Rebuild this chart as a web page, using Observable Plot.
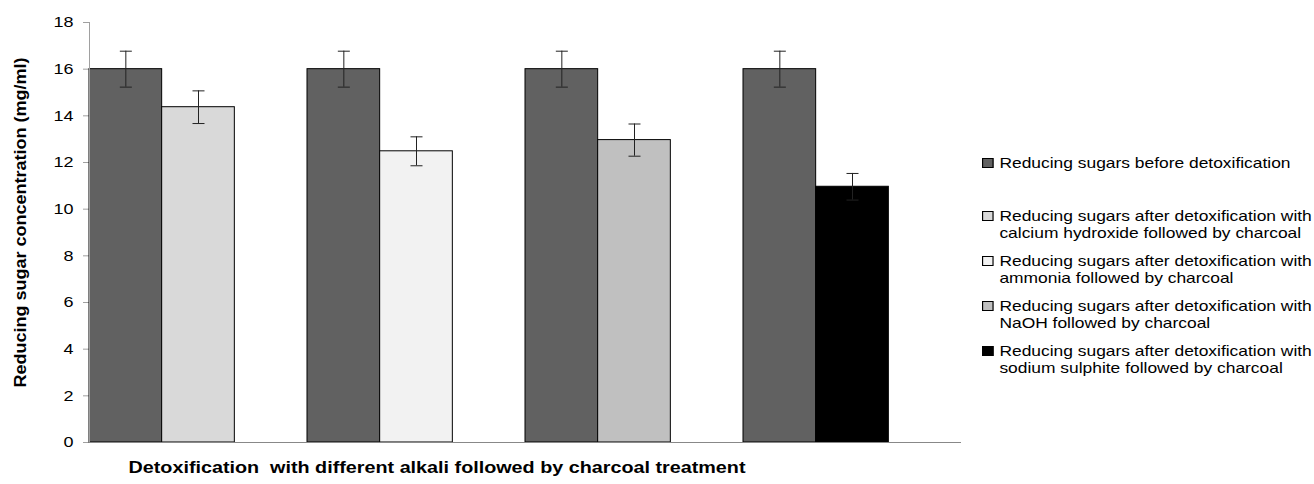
<!DOCTYPE html>
<html><head><meta charset="utf-8">
<script src="https://cdn.jsdelivr.net/npm/d3@7"></script>
<script src="https://cdn.jsdelivr.net/npm/@observablehq/plot@0.6"></script>
<style>
body{margin:0;background:#fff;font-family:"Liberation Sans",Arial,sans-serif;}
#wrap{position:relative;width:1314px;height:484px;overflow:hidden;}
#legend{position:absolute;left:982px;top:154px;font-size:15px;line-height:17px;color:#000;transform:scaleX(1.16);transform-origin:0 0;}
.item{display:flex;align-items:flex-start;margin-bottom:11px;white-space:nowrap;}
.item:first-child{margin-bottom:36px;}
.sw{width:8px;height:8px;border:1px solid #000;margin-top:4px;margin-right:5px;flex:none;}
#wrap svg g[aria-label^="y-axis"] line, #wrap svg g[aria-label="y-axis tick"] path{stroke:#a0a0a0;}
</style></head><body><div id="wrap"></div>
<script>
const groups = ["Calcium hydroxide", "Ammonia", "NaOH", "Sodium sulphite"];
const beforeValues = [16, 16, 16, 16];
const beforeErrors = [0.77, 0.77, 0.77, 0.77];
const afterValues = [14.37, 12.48, 12.96, 10.96];
const afterErrors = [0.70, 0.62, 0.69, 0.57];
const seriesLabels = [
  "Reducing sugars before detoxification",
  "Reducing sugars after detoxification with calcium hydroxide followed by charcoal",
  "Reducing sugars after detoxification with ammonia followed by charcoal",
  "Reducing sugars after detoxification with NaOH followed by charcoal",
  "Reducing sugars after detoxification with sodium sulphite followed by charcoal"
];
const legendLines = [
  ["Reducing sugars before detoxification"],
  ["Reducing sugars after detoxification with", "calcium hydroxide followed by charcoal"],
  ["Reducing sugars after detoxification with", "ammonia followed by charcoal"],
  ["Reducing sugars after detoxification with", "NaOH followed by charcoal"],
  ["Reducing sugars after detoxification with", "sodium sulphite followed by charcoal"]
];
const seriesColors = ["#616161", "#d9d9d9", "#f2f2f2", "#c0c0c0", "#000000"];
const yTicks = [0, 2, 4, 6, 8, 10, 12, 14, 16, 18];
const yLabel = "Reducing sugar concentration (mg/ml)";
const xLabel = "Detoxification\u00a0 with different alkali followed by charcoal treatment";

// each group occupies 3 slots: before bar, after bar, gap
const rows = [];
groups.forEach((g, i) => {
  rows.push({group: g, slot: 3 * i, value: beforeValues[i], err: beforeErrors[i], series: seriesLabels[0]});
  rows.push({group: g, slot: 3 * i + 1, value: afterValues[i], err: afterErrors[i], series: seriesLabels[i + 1]});
});

const capSymbol = {draw(ctx) { ctx.moveTo(-6, 0); ctx.lineTo(6, 0); }};

const chart = Plot.plot({
  width: 1314,
  height: 484,
  marginLeft: 89,
  marginRight: 353,
  marginTop: 22,
  marginBottom: 42,
  style: {fontFamily: "'Liberation Sans', Arial, sans-serif", fontSize: "15px", color: "#000", background: "#fff"},
  x: {domain: [0, groups.length * 3], axis: null},
  y: {domain: [0, 18], ticks: yTicks, tickSize: 6, tickPadding: 10, label: null, tickFormat: d => String(d)},
  color: {domain: seriesLabels, range: seriesColors},
  marks: [
    Plot.rect(rows, {x1: d => d.slot, x2: d => d.slot + 1, y1: d => 0, y2: "value", fill: "series", stroke: "#000", strokeWidth: 1}),
    Plot.ruleX(rows, {x: d => d.slot + 0.5, y1: d => d.value - d.err, y2: d => d.value + d.err, stroke: "#222", strokeWidth: 1}),
    Plot.dot(rows, {x: d => d.slot + 0.5, y: d => d.value + d.err, symbol: capSymbol, stroke: "#222", fill: "none", strokeWidth: 1}),
    Plot.dot(rows, {x: d => d.slot + 0.5, y: d => d.value - d.err, symbol: capSymbol, stroke: "#222", fill: "none", strokeWidth: 1}),
    Plot.ruleX([0], {stroke: "#a0a0a0"}),
    Plot.ruleY([0], {stroke: "#888"}),
    Plot.text([yLabel], {text: d => d, frameAnchor: "left", textAnchor: "middle", rotate: -90, dx: -69, dy: -10, fontWeight: "bold", fontSize: 16}),
    Plot.text([xLabel], {text: d => d, frameAnchor: "bottom", dy: 30, dx: -88.5, fontWeight: "bold", fontSize: 16})
  ]
});
const wrap = document.getElementById("wrap");
wrap.appendChild(chart);

// the reference is stretched horizontally: widen the horizontal texts
function stretchTo(el, w) {
  el.setAttribute("textLength", w);
  el.setAttribute("lengthAdjust", "spacingAndGlyphs");
}
chart.querySelectorAll('g[aria-label^="y-axis"] text').forEach(t => stretchTo(t, t.getComputedTextLength() * 1.2));
chart.querySelectorAll('g[aria-label="text"] text').forEach(t => {
  if (t.textContent === xLabel) stretchTo(t, 617);
  if (t.textContent === yLabel) stretchTo(t, 330);
});

const legend = document.createElement("div");
legend.id = "legend";
legendLines.forEach((lines, i) => {
  const item = document.createElement("div");
  item.className = "item";
  const sw = document.createElement("div");
  sw.className = "sw";
  sw.style.background = seriesColors[i];
  const tx = document.createElement("div");
  tx.innerHTML = lines.join("<br>");
  item.appendChild(sw);
  item.appendChild(tx);
  legend.appendChild(item);
});
wrap.appendChild(legend);
</script>
</body></html>
